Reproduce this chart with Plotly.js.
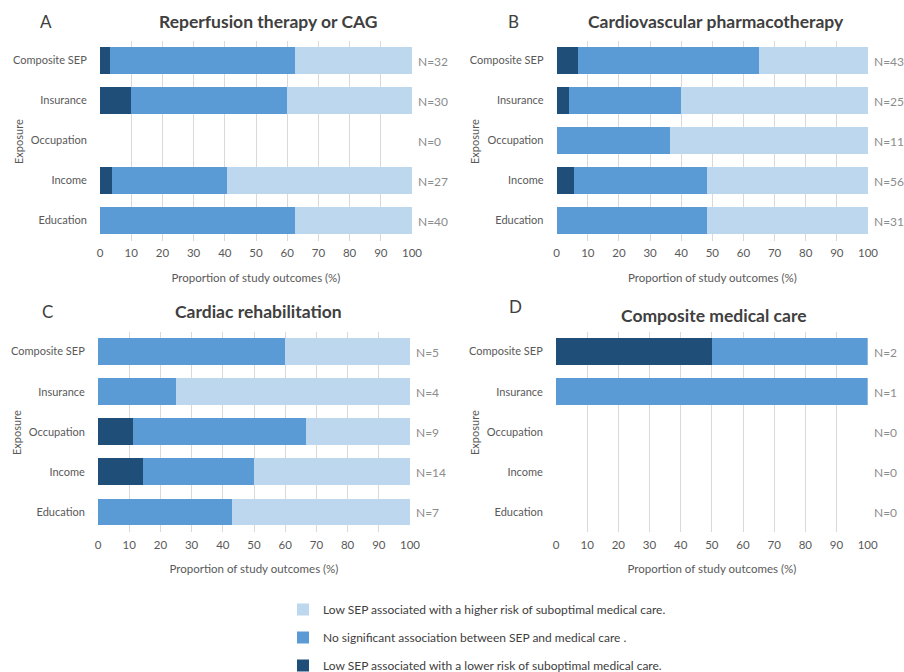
<!DOCTYPE html>
<html>
<head>
<meta charset="utf-8">
<script src="https://cdn.plot.ly/plotly-3.0.1.min.js"></script>
<style>html,body{margin:0;padding:0;background:#fff;width:904px;height:672px;overflow:hidden;}#chart{width:904px;height:672px;overflow:hidden;}</style>
</head>
<body>
<div id="chart"></div>
<script>
// Categories (bottom to top)
const categories = ["Education", "Income", "Occupation", "Insurance", "Composite SEP"];
const xTicks = [0, 10, 20, 30, 40, 50, 60, 70, 80, 90, 100];

const seriesNames = [
  "Low SEP associated with a lower risk of suboptimal medical care.",
  "No significant association between SEP and medical care .",
  "Low SEP associated with a higher risk of suboptimal medical care."
];

const panelTitles = ["Reperfusion therapy or CAG", "Cardiovascular pharmacotherapy", "Cardiac rehabilitation", "Composite medical care"];
const panelLetters = ["A", "B", "C", "D"];

// Panel A
const A_lower  = [0, 3.7, 0, 10.0, 3.1];
const A_none   = [62.5, 37.0, 0, 50.0, 59.4];
const A_higher = [37.5, 59.3, 0, 40.0, 37.5];
const A_N      = [40, 27, 0, 30, 32];
// Panel B
const B_lower  = [0, 5.4, 0, 4.0, 7.0];
const B_none   = [48.4, 42.8, 36.4, 36.0, 58.1];
const B_higher = [51.6, 51.8, 63.6, 60.0, 34.9];
const B_N      = [31, 56, 11, 25, 43];
// Panel C
const C_lower  = [0, 14.3, 11.1, 0, 0];
const C_none   = [42.9, 35.7, 55.6, 25.0, 60.0];
const C_higher = [57.1, 50.0, 33.3, 75.0, 40.0];
const C_N      = [7, 14, 9, 4, 5];
// Panel D
const D_lower  = [0, 0, 0, 0, 50];
const D_none   = [0, 0, 0, 100, 50];
const D_higher = [0, 0, 0, 0, 0];
const D_N      = [0, 0, 0, 1, 2];

const colors = ["#1F4E79", "#5B9BD5", "#BDD7EE"];
const legendRanks = [3, 2, 1];
// figure is slightly taller than the window so the last legend row sits at the bottom edge like the original
const W = 904, H = 680;
const px = x => x / W;
const py = y => 1 - y / H;
const FONT = "Lato, 'Open Sans', sans-serif";

const panels = [
  {series: [A_lower, A_none, A_higher], N: A_N, x0: 100, x1: 412, y0: 40.5, y1: 240.5, letter: [46, 21], title: [268, 21], expo: [18, 142]},
  {series: [B_lower, B_none, B_higher], N: B_N, x0: 556.7, x1: 868, y0: 40.5, y1: 240.5, letter: [513, 21], title: [716, 21], expo: [474, 142]},
  {series: [C_lower, C_none, C_higher], N: C_N, x0: 98, x1: 410, y0: 331.5, y1: 532, letter: [47, 312], title: [258, 312], expo: [16, 433]},
  {series: [D_lower, D_none, D_higher], N: D_N, x0: 556, x1: 867.7, y0: 331.5, y1: 532, letter: [515, 307], title: [714, 315], expo: [474, 433]}
];

const data = [];
const layout = {
  width: W, height: H,
  margin: {l: 0, r: 0, t: 0, b: 0},
  paper_bgcolor: "#ffffff",
  plot_bgcolor: "#ffffff",
  barmode: "stack",
  bargap: 0.33,
  font: {family: FONT, color: "#595959", size: 11},
  showlegend: true,
  legend: {
    x: px(283), y: 0, xanchor: "left", yanchor: "bottom",
    traceorder: "grouped", tracegroupgap: 9,
    font: {family: FONT, size: 12, color: "#404040"},
    bgcolor: "rgba(0,0,0,0)", borderwidth: 0
  },
  annotations: []
};

panels.forEach((p, i) => {
  const s = i === 0 ? "" : String(i + 1);
  const xa = "x" + s, ya = "y" + s;
  p.series.forEach((vals, k) => {
    data.push({
      type: "bar", orientation: "h",
      x: vals, y: categories,
      xaxis: xa, yaxis: ya,
      name: seriesNames[k],
      legendgroup: "g" + k,
      legendrank: legendRanks[k],
      showlegend: i === 0,
      marker: {color: colors[k], line: {width: 0}},
      hoverinfo: "x+y+name"
    });
  });
  layout["xaxis" + s] = {
    domain: [px(p.x0), px(p.x1)], anchor: ya,
    range: [0, 100], tickvals: xTicks, fixedrange: true,
    showgrid: true, gridcolor: "#D9D9D9", gridwidth: 1,
    zeroline: false, showline: false,
    ticks: "outside", ticklen: 2, tickcolor: "rgba(0,0,0,0)",
    tickfont: {family: FONT, size: 11.5, color: "#595959"},
    title: {text: "Proportion of study outcomes (%)", font: {family: FONT, size: 11.5, color: "#595959"}, standoff: 15},
    automargin: false
  };
  layout["yaxis" + s] = {
    domain: [py(p.y1), py(p.y0)], anchor: xa,
    type: "category", categoryorder: "array", categoryarray: categories,
    showgrid: false, zeroline: false, showline: false, fixedrange: true,
    ticks: "outside", ticklen: 10, tickcolor: "rgba(0,0,0,0)",
    tickfont: {family: FONT, size: 11, color: "#595959"},
    automargin: false
  };
  // N labels
  p.N.forEach((n, j) => {
    layout.annotations.push({
      xref: xa, yref: ya, x: 100, y: categories[j],
      text: "N=" + n, showarrow: false, xanchor: "left", xshift: 4, yshift: -1,
      font: {family: FONT, size: 12, color: "#8C8C8C"}
    });
  });
  // letter
  layout.annotations.push({
    xref: "paper", yref: "paper", x: px(p.letter[0]), y: py(p.letter[1]),
    text: panelLetters[i], showarrow: false, xanchor: "center", yanchor: "middle",
    font: {family: FONT, size: 17, color: "#404040"}
  });
  // title
  layout.annotations.push({
    xref: "paper", yref: "paper", x: px(p.title[0]), y: py(p.title[1]),
    text: "<b>" + panelTitles[i] + "</b>", showarrow: false, xanchor: "center", yanchor: "middle",
    font: {family: FONT, size: 17.5, color: "#404040"}
  });
  // Exposure
  layout.annotations.push({
    xref: "paper", yref: "paper", x: px(p.expo[0]), y: py(p.expo[1]),
    text: "Exposure", showarrow: false, textangle: -90, xanchor: "center", yanchor: "middle",
    font: {family: FONT, size: 11, color: "#595959"}
  });
});

Plotly.newPlot("chart", data, layout, {displayModeBar: false, staticPlot: true});
</script>
</body>
</html>
